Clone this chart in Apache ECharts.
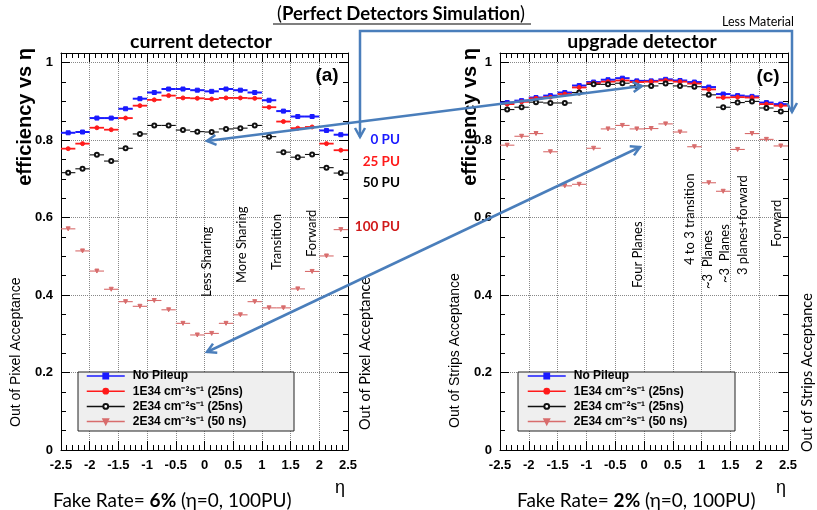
<!DOCTYPE html>
<html>
<head>
<meta charset="utf-8">
<script src="https://cdn.jsdelivr.net/npm/echarts@6/dist/echarts.min.js"></script>
<style>
  html, body { margin: 0; padding: 0; background: #fff; }
</style>
</head>
<body>
<div id="chart" style="width:817px;height:510px;"></div>
<script>
// eta bin centres (bin width 0.25)
const etaBins = [-2.375, -2.125, -1.875, -1.625, -1.375, -1.125, -0.875, -0.625, -0.375, -0.125,
  0.125, 0.375, 0.625, 0.875, 1.125, 1.375, 1.625, 1.875, 2.125, 2.375]
const halfBin = 0.125

const seriesNames = ['No Pileup', '1E34 cm\u207B\u00B2s\u207B\u00B9 (25ns)', '2E34 cm\u207B\u00B2s\u207B\u00B9 (25ns)', '2E34 cm\u207B\u00B2s\u207B\u00B9 (50 ns)']

// (a) current detector
const curNoPU = [0.819, 0.821, 0.857, 0.857, 0.881, 0.907, 0.923, 0.932, 0.932, 0.929,
  0.926, 0.932, 0.929, 0.923, 0.903, 0.875, 0.861, 0.861, 0.825, 0.814]
const cur25 = [0.778, 0.791, 0.832, 0.827, 0.857, 0.889, 0.904, 0.915, 0.909, 0.908,
  0.906, 0.909, 0.909, 0.908, 0.885, 0.848, 0.831, 0.834, 0.791, 0.774]
const cur50 = [0.716, 0.726, 0.762, 0.746, 0.779, 0.816, 0.838, 0.838, 0.826, 0.822,
  0.821, 0.829, 0.831, 0.838, 0.809, 0.769, 0.756, 0.763, 0.729, 0.715]
const cur100 = [0.571, 0.514, 0.462, 0.415, 0.383, 0.371, 0.386, 0.362, 0.327, 0.297,
  0.301, 0.327, 0.349, 0.383, 0.367, 0.367, 0.416, 0.461, 0.501, 0.569]

// (c) upgrade detector
const upgNoPU = [0.897, 0.902, 0.910, 0.915, 0.923, 0.941, 0.950, 0.956, 0.960, 0.953,
  0.953, 0.957, 0.954, 0.950, 0.937, 0.919, 0.915, 0.913, 0.897, 0.893]
const upg25 = [0.893, 0.899, 0.908, 0.911, 0.919, 0.936, 0.947, 0.951, 0.954, 0.950,
  0.951, 0.954, 0.951, 0.946, 0.931, 0.910, 0.911, 0.910, 0.893, 0.889]
const upg50 = [0.879, 0.885, 0.898, 0.896, 0.896, 0.923, 0.944, 0.944, 0.947, 0.940,
  0.940, 0.946, 0.940, 0.938, 0.917, 0.885, 0.897, 0.900, 0.883, 0.874]
const upg100 = [0.787, 0.810, 0.817, 0.770, 0.682, 0.686, 0.779, 0.829, 0.838, 0.829,
  0.830, 0.842, 0.821, 0.783, 0.690, 0.668, 0.776, 0.817, 0.802, 0.785]

const xTicks = { min: -2.5, max: 2.5, interval: 0.5 }
const yTicks = { min: 0, max: 1.025, interval: 0.2 }

// marker styles per data set
const looks = [
  { color: '#1a1aff', symbol: 'rect', size: 4, bar: 2 },
  { color: '#ff1a1a', symbol: 'circle', size: 4, bar: 1.8 },
  { color: '#111111', symbol: 'emptyCircle', size: 4, bar: 1.1 },
  { color: '#d86c6c', symbol: 'triangle', size: 4, bar: 1.1, rotate: 180 }
]

const blue = '#4a7ebb'
const rootFont = 'Liberation Sans'
const pptFont = 'Lato'

function pairs (vals) {
  return etaBins.map((x, i) => [x, vals[i]])
}

function panelSeries (sets, gi) {
  let out = []
  sets.forEach((vals, k) => {
    let lk = looks[k]
    // horizontal bin-width bars
    out.push({
      type: 'custom',
      xAxisIndex: gi,
      yAxisIndex: gi,
      z: 2,
      silent: true,
      data: pairs(vals),
      renderItem: function (params, api) {
        let p1 = api.coord([api.value(0) - halfBin, api.value(1)])
        let p2 = api.coord([api.value(0) + halfBin, api.value(1)])
        return {
          type: 'line',
          shape: { x1: p1[0], y1: p1[1], x2: p2[0], y2: p2[1] },
          style: { stroke: lk.color, lineWidth: lk.bar }
        }
      }
    })
    // markers
    out.push({
      name: seriesNames[k],
      type: 'line',
      xAxisIndex: gi,
      yAxisIndex: gi,
      z: 3,
      data: pairs(vals),
      symbol: lk.symbol,
      symbolSize: lk.size,
      symbolRotate: lk.rotate || 0,
      showSymbol: true,
      lineStyle: { width: 0, color: lk.color },
      itemStyle: { color: lk.color, borderColor: lk.color, borderWidth: 1 }
    })
  })
  return out
}

function xAxisFor (gi, top) {
  return {
    type: 'value',
    gridIndex: gi,
    position: top ? 'top' : 'bottom',
    min: xTicks.min,
    max: xTicks.max,
    interval: xTicks.interval,
    axisLine: { show: true, onZero: false, lineStyle: { color: '#000', width: 1 } },
    axisTick: { show: true, inside: true, length: 9, lineStyle: { color: '#000' } },
    minorTick: { show: true, splitNumber: 5, length: 5, lineStyle: { color: '#000' } },
    splitLine: { show: !top, lineStyle: { type: 'dotted', color: '#888', width: 1 } },
    axisLabel: {
      show: !top,
      margin: 9,
      color: '#000',
      fontFamily: rootFont,
      fontWeight: 'bold',
      fontSize: 13
    }
  }
}

function yAxisFor (gi, right) {
  return {
    type: 'value',
    gridIndex: gi,
    position: right ? 'right' : 'left',
    min: yTicks.min,
    max: yTicks.max,
    interval: yTicks.interval,
    axisLine: { show: true, onZero: false, lineStyle: { color: '#000', width: 1 } },
    axisTick: { show: true, inside: true, length: 9, lineStyle: { color: '#000' } },
    minorTick: { show: true, splitNumber: 4, length: 5, lineStyle: { color: '#000' } },
    splitLine: { show: !right, lineStyle: { type: 'dotted', color: '#888', width: 1 } },
    axisLabel: {
      show: !right,
      margin: 8,
      color: '#000',
      fontFamily: rootFont,
      fontWeight: 'bold',
      fontSize: 13,
      formatter: function (v) { return v > 1.001 ? '' : String(v) }
    }
  }
}

function legendFor (left) {
  return {
    orient: 'vertical',
    left: left,
    top: 370,
    itemWidth: 38,
    itemHeight: 6,
    itemGap: 3.2,
    padding: 0,
    selectedMode: false,
    data: seriesNames,
    lineStyle: { width: 1.5 },
    textStyle: { fontFamily: rootFont, fontWeight: 'bold', fontSize: 12, color: '#000', padding: [0, 0, 0, 3] }
  }
}

// annotation helpers (arrows drawn on top of the picture)
function arrowHead (px, py, qx, qy) {
  let dx = px - qx
  let dy = py - qy
  let len = Math.sqrt(dx * dx + dy * dy)
  let ux = dx / len
  let uy = dy / len
  let L = 9
  let W = 5
  return {
    type: 'polyline',
    z: 20,
    shape: { points: [[px - L * ux + W * uy, py - L * uy - W * ux], [px, py], [px - L * ux - W * uy, py - L * uy + W * ux]] },
    style: { stroke: blue, lineWidth: 2.5, fill: null }
  }
}

function twoWayArrow (ax, ay, bx, by) {
  return [
    { type: 'line', z: 20, shape: { x1: ax, y1: ay, x2: bx, y2: by }, style: { stroke: blue, lineWidth: 2.5 } },
    arrowHead(ax, ay, bx, by),
    arrowHead(bx, by, ax, ay)
  ]
}

function text (str, x, y, opts) {
  return {
    type: 'text',
    z: 15,
    x: x,
    y: y,
    rotation: opts.rot ? Math.PI / 2 : 0,
    style: {
      text: str,
      fill: opts.color || '#000',
      font: (opts.bold ? 'bold ' : '') + opts.size + 'px "' + (opts.family || pptFont) + '"',
      textAlign: opts.align || 'center',
      textVerticalAlign: 'middle'
    }
  }
}

function fakeRate (x, pct) {
  return {
    type: 'text', z: 15, x: x, y: 501,
    style: {
      text: '{n|Fake Rate= }{b|' + pct + '}{n| (\u03B7=0, 100PU)}',
      textAlign: 'left', textVerticalAlign: 'middle',
      rich: { n: { font: '19px "Lato"', fill: '#000' }, b: { font: 'bold 19px "Lato"', fill: '#000' } }
    }
  }
}

let graphics = [
  // legend boxes
  { type: 'rect', z: 3, shape: { x: 78, y: 372, width: 216, height: 59 }, style: { fill: '#efefef', stroke: '#222', lineWidth: 1 } },
  { type: 'rect', z: 3, shape: { x: 518, y: 372, width: 217, height: 59 }, style: { fill: '#efefef', stroke: '#222', lineWidth: 1 } },

  // headings
  {
    type: 'text', z: 15, x: 401, y: 14,
    style: {
      text: '{n|(}{b|Perfect Detectors Simulation}{n|)}',
      textAlign: 'center', textVerticalAlign: 'middle',
      rich: {
        n: { font: '18.5px "Lato"', fill: '#000' },
        b: { font: 'bold 18.5px "Lato"', fill: '#000' }
      }
    }
  },
  { type: 'line', z: 15, shape: { x1: 273, y1: 24, x2: 531, y2: 24 }, style: { stroke: '#000', lineWidth: 1.2 } },
  text('Less Material', 758, 22, { size: 12.5 }),
  text('current detector', 201, 42, { size: 19.5, bold: true }),
  text('upgrade detector', 642, 42, { size: 19.5, bold: true }),
  text('(a)', 327, 76, { size: 19, bold: true, family: rootFont }),
  text('(c)', 768, 77, { size: 19, bold: true, family: rootFont }),

  // y titles
  text('efficiency vs \u03B7', 25, 48, { size: 20, bold: true, family: rootFont, rot: true, align: 'right' }),
  text('efficiency vs \u03B7', 470, 48, { size: 20, bold: true, family: rootFont, rot: true, align: 'right' }),
  text('Out of Pixel Acceptance', 16, 427, { size: 14, family: rootFont, rot: true, align: 'left' }),
  text('Out of Pixel Acceptance', 365, 430, { size: 14.5, rot: true, align: 'left' }),
  text('Out of Strips Acceptance', 455, 428, { size: 14, family: rootFont, rot: true, align: 'left' }),
  text('Out of Strips Acceptance', 807, 452, { size: 14.5, rot: true, align: 'left' }),

  // pileup labels
  text('0 PU', 400, 140, { size: 13.5, bold: true, color: '#1a1aff', align: 'right' }),
  text('25 PU', 400, 162, { size: 13.5, bold: true, color: '#ff1a1a', align: 'right' }),
  text('50 PU', 400, 183, { size: 13.5, bold: true, color: '#000', align: 'right' }),
  text('100 PU', 400, 227, { size: 13.5, bold: true, color: '#d01a1a', align: 'right' }),

  // region labels, panel (a)
  text('Less Sharing', 207, 297, { size: 13, rot: true, align: 'left' }),
  text('More Sharing', 242, 283, { size: 13, rot: true, align: 'left' }),
  text('Transition', 277, 270, { size: 13, rot: true, align: 'left' }),
  text('Forward', 312, 257, { size: 13, rot: true, align: 'left' }),

  // region labels, panel (c)
  text('Four Planes', 638, 288, { size: 13, rot: true, align: 'left' }),
  text('4 to 3 transition', 690, 265, { size: 13, rot: true, align: 'left' }),
  text('~3  Planes', 708, 289, { size: 13, rot: true, align: 'left' }),
  text('~3  Planes', 725, 283, { size: 13, rot: true, align: 'left' }),
  text('3 planes+forward', 743, 275, { size: 13, rot: true, align: 'left' }),
  text('Forward', 777, 247, { size: 13, rot: true, align: 'left' }),

  // axis titles and fake rate
  text('\u03B7', 340, 488, { size: 18, family: rootFont }),
  text('\u03B7', 781, 488, { size: 18, family: rootFont }),
  fakeRate(53, '6%'),
  fakeRate(517, '2%'),

  // bracket from left panel to right panel
  { type: 'polyline', z: 20, shape: { points: [[360, 137], [360, 31], [792, 31], [792, 112]] }, style: { stroke: blue, lineWidth: 2.5, fill: null } },
  arrowHead(360, 137, 360, 100),
  arrowHead(792, 112, 792, 80)
]
graphics = graphics.concat(twoWayArrow(207, 141, 642, 86))
graphics = graphics.concat(twoWayArrow(207, 352, 640, 147))

let myChart = echarts.init(document.getElementById('chart'))
myChart.setOption({
  animation: false,
  backgroundColor: '#fff',
  grid: [
    { left: 61, top: 53, width: 287, height: 397 },
    { left: 500, top: 53, width: 288, height: 397 }
  ],
  xAxis: [xAxisFor(0, false), xAxisFor(1, false), xAxisFor(0, true), xAxisFor(1, true)],
  yAxis: [yAxisFor(0, false), yAxisFor(1, false), yAxisFor(0, true), yAxisFor(1, true)],
  legend: [legendFor(86), legendFor(527)],
  series: panelSeries([curNoPU, cur25, cur50, cur100], 0)
    .concat(panelSeries([upgNoPU, upg25, upg50, upg100], 1)),
  graphic: graphics
})
</script>
</body>
</html>
